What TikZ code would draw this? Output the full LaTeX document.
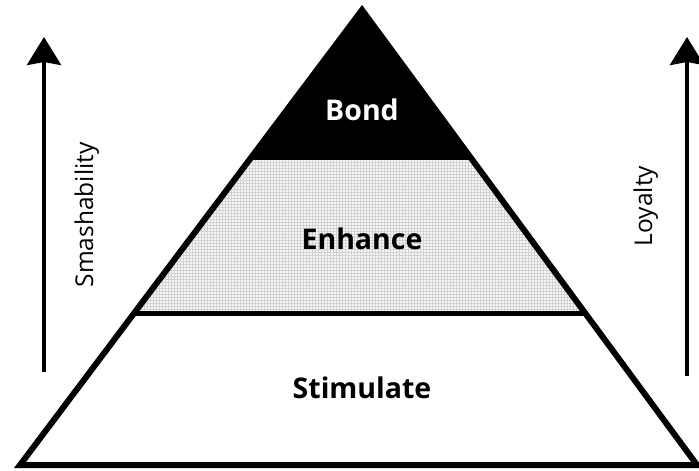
\documentclass[tikz,border=0pt]{standalone}
\usepackage{fontspec}
\setmainfont{Open Sans}
\usetikzlibrary{arrows.meta,patterns,calc}
\begin{document}
\begin{tikzpicture}[x=1pt,y=-1pt,
  outline/.style={line width=6pt,line join=miter},
  band/.style={line width=5pt},
  layerlabel/.style={font=\bfseries\fontsize{28.5}{30}\selectfont,anchor=base,inner sep=0pt},
  sidelabel/.style={font=\fontsize{24.5}{26}\selectfont,rotate=90,anchor=base,inner sep=0pt},
  axis/.style={line width=4pt,-{Stealth[length=28pt,width=34pt,inset=3pt]}}]
\useasboundingbox (0,0) rectangle (699,471);
\coordinate (A) at (362,10);
\coordinate (BL) at (20,465);
\coordinate (BR) at (697,465);
\coordinate (T1L) at ($(A)!0.33!(BL)$);
\coordinate (T1R) at ($(A)!0.33!(BR)$);
\coordinate (T2L) at ($(A)!0.666!(BL)$);
\coordinate (T2R) at ($(A)!0.666!(BR)$);
% layers
\fill[black] (A) -- (T1L) -- (T1R) -- cycle;
\fill[gray!6] (T1L) -- (T1R) -- (T2R) -- (T2L) -- cycle;
\fill[pattern=grid,pattern color=gray!35] (T1L) -- (T1R) -- (T2R) -- (T2L) -- cycle;
\draw[band] (T2L) -- (T2R);
\draw[outline] (A) -- (BL) -- (BR) -- cycle;
% labels
\node[layerlabel,text=white] (bond) at (362,120) {Bond};
\node[layerlabel] (enhance) at (362,249) {Enhance};
\node[layerlabel] (stimulate) at (362,398) {Stimulate};
% side arrows
\coordinate (L0) at (44,372);
\coordinate (L1) at (44,37);
\coordinate (R0) at (687,376);
\coordinate (R1) at (687,37);
\draw[axis] (L0) -- (L1);
\draw[axis] (R0) -- (R1);
\node[sidelabel] (smash) at (93,215) {Smashability};
\node[sidelabel] (loyal) at (652,206) {Loyalty};
\end{tikzpicture}
\end{document}
